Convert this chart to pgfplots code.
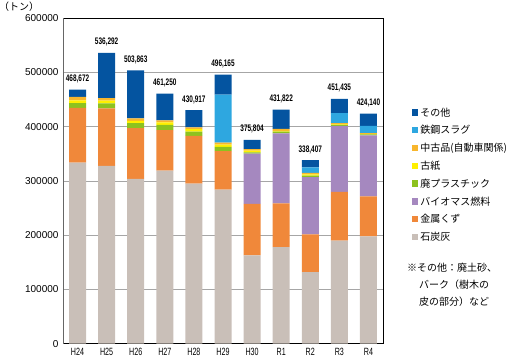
\documentclass[border=0pt]{standalone}
\usepackage{pgfplots}
\pgfplotsset{compat=1.18}
\usepackage{pgfplotstable}
\usepackage{fontspec}
\setmainfont{Liberation Sans}
\newfontfamily\narrow[FakeStretch=0.68]{Liberation Sans}
\newfontfamily\jp{Noto Sans CJK JP}
\definecolor{cCoal}{HTML}{C9BFB8}
\definecolor{cMetal}{HTML}{F0883A}
\definecolor{cBio}{HTML}{A588BF}
\definecolor{cPlast}{HTML}{8DC21F}
\definecolor{cPaper}{HTML}{FFF000}
\definecolor{cUsed}{HTML}{F8B62D}
\definecolor{cSlag}{HTML}{2EA7E0}
\definecolor{cOther}{HTML}{0454A0}
\pgfplotstableread{
x coal metal bio plastic paper used slag other total label
0 334000 101000 0 8500 5000 6600 0 13572 468672 468,672
1 328000 106000 0 9000 5000 5000 0 83292 536292 536,292
2 304000 93600 0 9200 4000 4700 0 88363 503863 503,863
3 319000 75000 0 9700 4300 3700 0 49550 461250 461,250
4 295000 88000 0 8000 4800 3100 0 32017 430917 430,917
5 284000 71000 0 7800 4200 3600 88800 36765 496165 496,165
6 163000 94600 92900 2500 3000 3000 0 16804 375804 375,804
7 178000 80700 129300 3000 1500 3500 0 35822 431822 431,822
8 132000 69800 105200 3000 2000 3000 10000 13407 338407 338,407
9 190000 90000 121800 1500 1000 2500 18400 26235 451435 451,435
10 198000 73600 112400 2000 1000 1500 13000 22640 424140 424,140
}\datatable
\begin{document}
\begin{tikzpicture}
\path[use as bounding box] (0,0) rectangle (518bp,361bp);
\begin{axis}[
  at={(63bp,17.3bp)}, anchor=south west,
  scale only axis, width=320bp, height=325.4bp,
  ybar stacked, bar width=17bp,
  xmin=-0.5, xmax=10.5, ymin=0, ymax=600000,
  xtick={0,...,10},
  xticklabels={H24,H25,H26,H27,H28,H29,H30,R1,R2,R3,R4},
  x tick label style={font=\narrow\fontsize{10.5bp}{12bp}\selectfont, yshift=-1bp},
  major x tick style={draw=none},
  extra x ticks={0.5,1.5,...,9.5},
  extra x tick labels={},
  extra x tick style={tick align=inside, major tick length=6bp, major tick style={black, line width=0.6pt}, grid=none},
  ytick={0,100000,...,600000},
  scaled y ticks=false,
  y tick label style={font=\fontsize{10bp}{12bp}\selectfont, /pgf/number format/fixed, /pgf/number format/1000 sep={}, /pgf/number format/assume math mode=true, xshift=-1bp},
  major y tick style={draw=none},
  ymajorgrids, grid style={gray!70, line width=0.8pt},
  axis line style={black, line width=0.7pt},
  reverse legend,
  legend style={at={(1.08,0.738)}, anchor=north west, draw=none, fill=none,
    font=\jp\fontsize{10bp}{11bp}\selectfont, row sep=3.9bp},
  legend cell align=left,
  legend image code/.code={\fill[#1] (0bp,-3bp) rectangle (6.5bp,3.5bp);},
]
\addplot[fill=cCoal, draw=none] table[x=x, y=coal] {\datatable};
\addplot[fill=cMetal, draw=none] table[x=x, y=metal] {\datatable};
\addplot[fill=cBio, draw=none] table[x=x, y=bio] {\datatable};
\addplot[fill=cPlast, draw=none] table[x=x, y=plastic] {\datatable};
\addplot[fill=cPaper, draw=none] table[x=x, y=paper] {\datatable};
\addplot[fill=cUsed, draw=none] table[x=x, y=used] {\datatable};
\addplot[fill=cSlag, draw=none] table[x=x, y=slag] {\datatable};
\addplot[fill=cOther, draw=none] table[x=x, y=other] {\datatable};
\legend{石炭灰,金属くず,バイオマス燃料,廃プラスチック,古紙,中古品(自動車関係),鉄鋼スラグ,その他}
\end{axis}
\begin{axis}[
  at={(63bp,17.3bp)}, anchor=south west,
  scale only axis, width=320bp, height=325.4bp,
  xmin=-0.5, xmax=10.5, ymin=0, ymax=600000,
  hide axis, clip=false,
]
\draw[gray!80!black, line width=0.8pt] (rel axis cs:0,0) -- (rel axis cs:0,1);
\addplot[draw=none, mark=none, nodes near coords, point meta=explicit symbolic,
  nodes near coords style={anchor=south, font=\narrow\bfseries\fontsize{9.5bp}{11bp}\selectfont, yshift=3bp, text=black}]
  table[x=x, y=total, meta=label] {\datatable};
\end{axis}
\node[anchor=west, font=\jp\fontsize{10bp}{12bp}\selectfont, inner sep=0pt] at (-1bp,354.5bp) {（トン）};
\node[anchor=west, font=\jp\fontsize{10bp}{11bp}\selectfont, inner sep=0pt] at (407bp,93bp) {※その他：廃土砂、};
\node[anchor=west, font=\jp\fontsize{10bp}{11bp}\selectfont, inner sep=0pt] at (419bp,76bp) {バーク（樹木の};
\node[anchor=west, font=\jp\fontsize{10bp}{11bp}\selectfont, inner sep=0pt] at (419bp,59bp) {皮の部分）など};
\end{tikzpicture}
\end{document}
